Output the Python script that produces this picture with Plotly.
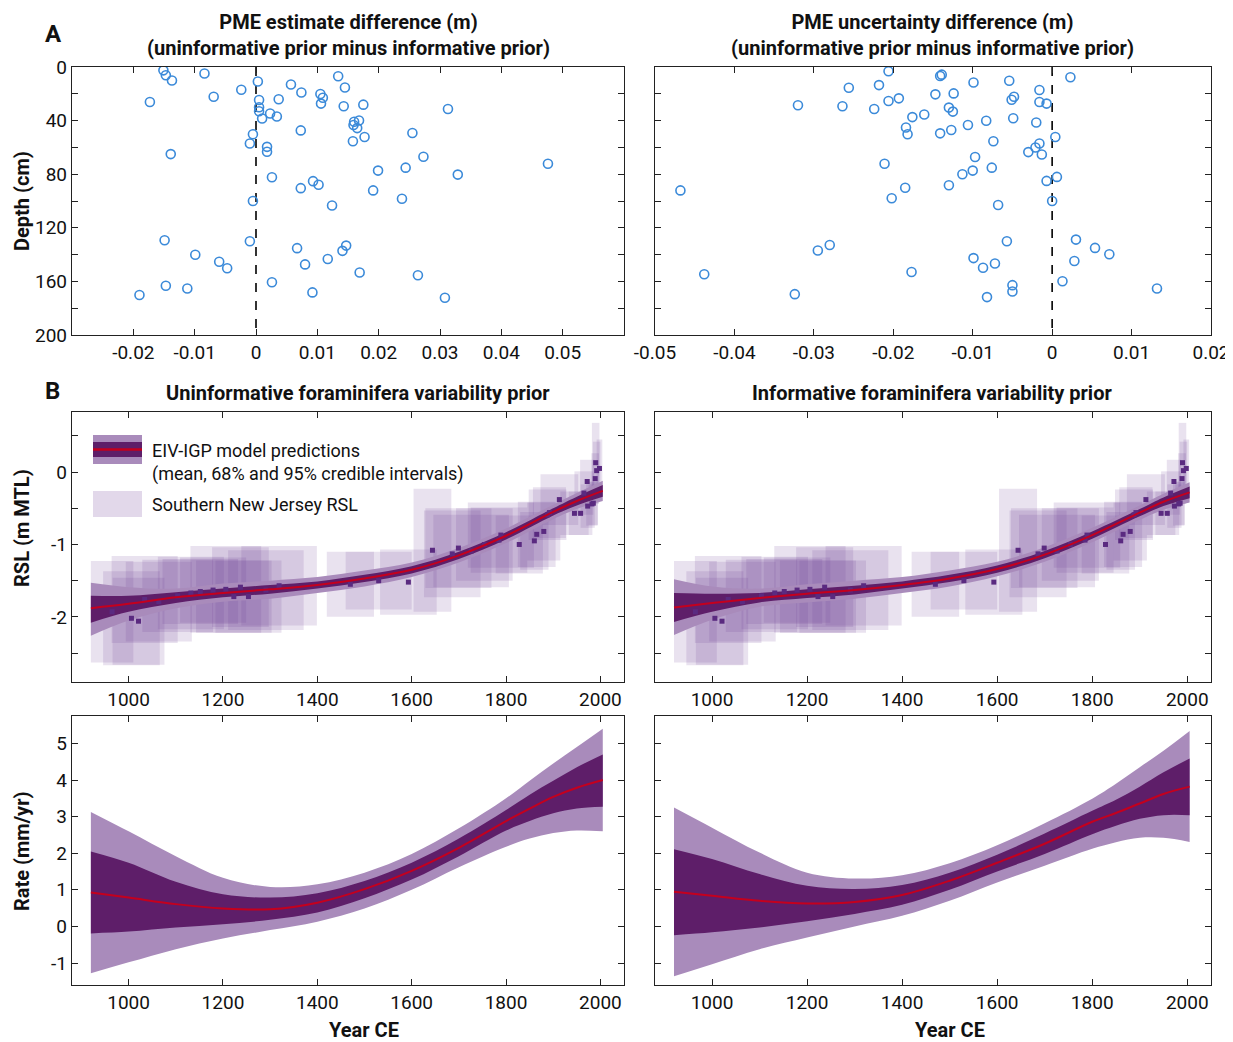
import plotly.graph_objects as go

# ---- panel A : PME differences vs depth ----
est_diff = [-0.0151, -0.0147, -0.0137, -0.0084, 0.0003, 0.0134, 0.0057, 0.0145, -0.0024, 0.0074,
            0.0105, 0.0109, -0.0069, -0.0173, 0.0005, 0.0037, 0.0106, 0.0143, 0.0175, 0.0313,
            0.0005, 0.0005, 0.0023, 0.0010, 0.0034, 0.0160, 0.0168, 0.0159, 0.0165, 0.0073,
            0.0255, 0.0177, -0.0005, -0.0010, 0.0158, 0.0018, 0.0018, -0.0139, 0.0273, 0.0476,
            0.0199, 0.0244, 0.0329, 0.0026, 0.0093, 0.0102, 0.0073, 0.0191, 0.0238, -0.0005,
            0.0124, -0.0149, -0.0010, 0.0067, 0.0147, 0.0141, -0.0099, 0.0117, -0.0060, -0.0047,
            0.0080, 0.0169, 0.0264, 0.0026, -0.0147, -0.0112, -0.0190, 0.0092, 0.0308]
est_depth = [2.5, 6.2, 10.1, 4.9, 10.8, 6.9, 13.1, 15.3, 17, 19, 20.2, 22.9, 22.2, 26.1, 24.6,
             24.1, 27.3, 29.3, 28.1, 31.3, 30, 33, 34.7, 38.4, 36.9, 40.9, 39.9, 43.3, 45.6, 47.3,
             49.3, 52.2, 50.2, 57.1, 55.4, 59.6, 63.3, 65, 67, 72.2, 77.3, 75.1, 80.3, 82.3, 85.2,
             87.9, 90.4, 92.1, 98.3, 100, 103.4, 129.3, 130, 135.2, 133.3, 137.2, 140.1, 143.3,
             145.3, 150.2, 147.3, 153.4, 155.4, 160.6, 163.3, 165.3, 170.2, 168.2, 172.2]

unc_diff = [-0.0206, -0.0139, -0.0141, 0.0023, -0.0099, -0.0054, -0.0256, -0.0218, -0.0016, -0.0124,
            -0.0147, -0.0193, -0.0206, -0.0048, -0.0051, -0.0016, -0.0007, -0.0320, -0.0264, -0.0224,
            -0.0130, -0.0125, -0.0161, -0.0176, -0.0049, -0.0083, -0.0020, -0.0106, -0.0184, -0.0127,
            -0.0141, -0.0182, 0.0004, -0.0074, -0.0016, -0.0021, -0.0030, -0.0013, -0.0097, -0.0211,
            -0.0076, -0.0100, -0.0113, 0.0006, -0.0007, -0.0468, -0.0185, -0.0130, -0.0202, 0.0000,
            -0.0068, 0.0030, -0.0057, -0.0280, -0.0295, 0.0054, 0.0072, -0.0099, -0.0087, -0.0072,
            0.0028, -0.0438, -0.0177, 0.0013, -0.0050, -0.0050, 0.0132, -0.0324, -0.0082]
unc_depth = [3.2, 5.7, 6.7, 7.6, 11.6, 10.3, 15.5, 13.5, 17.2, 19.7, 20.4, 23.4, 25.4, 22.2, 24.4,
             26.1, 27.3, 28.6, 29.3, 31.3, 30.3, 33.3, 35.5, 37.4, 38.2, 40.1, 41.4, 43.3, 45.1, 47,
             49.5, 50.2, 52.2, 55.4, 57.1, 60.1, 63.5, 65.3, 67.2, 72.2, 75.1, 77.3, 80, 82, 85,
             92.1, 90.1, 88.2, 98, 100, 103, 128.8, 130, 132.8, 136.9, 135, 139.7, 142.6, 149.8,
             146.6, 144.8, 154.7, 153, 159.9, 162.8, 167.5, 165.3, 169.5, 171.7]

# ---- panel B : RSL data (age, rsl and their half uncertainties) ----
sl_age = [965, 1006, 1021, 1034, 1064, 1104, 1132, 1152, 1179, 1206, 1223, 1237, 1254, 1291, 1319,
          1470, 1530, 1593, 1644, 1686, 1699, 1726, 1754, 1785, 1789, 1828, 1860, 1865, 1880, 1888,
          1892, 1913, 1945, 1958, 1965, 1972, 1973, 1982, 1985, 1989, 1990, 1992, 1998]
sl_rsl = [-1.93, -2.02, -2.06, -1.76, -1.79, -1.71, -1.67, -1.65, -1.63, -1.62, -1.72, -1.59, -1.72,
          -1.63, -1.57, -1.55, -1.50, -1.52, -1.08, -1.13, -1.05, -1.09, -1.00, -0.94, -0.87, -1.00,
          -0.95, -0.86, -0.82, -0.59, -0.56, -0.38, -0.57, -0.57, -0.29, -0.13, -0.47, -0.44, -0.43,
          -0.09, 0.13, 0.02, 0.05]
sl_age_err = [45, 60, 55, 70, 70, 75, 70, 80, 70, 75, 80, 60, 70, 80, 80,
              50, 70, 60, 40, 60, 70, 80, 60, 60, 70, 50, 30, 40, 35, 40,
              35, 40, 30, 25, 20, 15, 15, 12, 10, 8, 8, 8, 6]
sl_rsl_err = [0.70, 0.65, 0.60, 0.60, 0.55, 0.50, 0.50, 0.45, 0.45, 0.60, 0.50, 0.55, 0.50, 0.55, 0.55,
              0.45, 0.40, 0.45, 0.85, 0.60, 0.55, 0.50, 0.50, 0.45, 0.45, 0.40, 0.40, 0.45, 0.40, 0.35,
              0.35, 0.35, 0.30, 0.30, 0.30, 0.30, 0.30, 0.30, 0.30, 0.35, 0.55, 0.40, 0.40]

# model RSL (m MTL)
rsl_year = [920, 1000, 1100, 1200, 1300, 1400, 1500, 1600, 1700, 1800, 1900, 1950, 2005]
rsl_u_mean = [-1.88, -1.82, -1.73, -1.67, -1.62, -1.56, -1.47, -1.35, -1.15, -0.88, -0.55, -0.40, -0.26]
rsl_u_lo68 = [-2.08, -1.93, -1.81, -1.73, -1.68, -1.61, -1.52, -1.40, -1.20, -0.93, -0.60, -0.46, -0.34]
rsl_u_hi68 = [-1.71, -1.71, -1.66, -1.61, -1.56, -1.51, -1.42, -1.30, -1.10, -0.83, -0.50, -0.34, -0.18]
rsl_u_lo95 = [-2.26, -2.05, -1.88, -1.79, -1.75, -1.67, -1.58, -1.45, -1.25, -0.98, -0.65, -0.51, -0.40]
rsl_u_hi95 = [-1.53, -1.59, -1.61, -1.54, -1.50, -1.45, -1.36, -1.25, -1.05, -0.78, -0.45, -0.29, -0.12]

rsl_i_mean = [-1.87, -1.81, -1.74, -1.68, -1.63, -1.56, -1.47, -1.34, -1.14, -0.87, -0.56, -0.41, -0.28]
rsl_i_lo68 = [-2.07, -1.93, -1.80, -1.74, -1.69, -1.61, -1.52, -1.39, -1.19, -0.92, -0.61, -0.47, -0.36]
rsl_i_hi68 = [-1.67, -1.68, -1.67, -1.62, -1.57, -1.51, -1.42, -1.29, -1.09, -0.82, -0.51, -0.35, -0.20]
rsl_i_lo95 = [-2.25, -2.04, -1.86, -1.80, -1.75, -1.67, -1.58, -1.44, -1.24, -0.97, -0.66, -0.52, -0.42]
rsl_i_hi95 = [-1.48, -1.58, -1.61, -1.55, -1.50, -1.45, -1.36, -1.24, -1.04, -0.77, -0.46, -0.30, -0.14]

# model rate (mm/yr)
rate_year = [920, 1000, 1100, 1200, 1300, 1400, 1500, 1600, 1700, 1800, 1850, 1900, 1950, 2005]
rate_u_mean = [0.93, 0.79, 0.61, 0.49, 0.47, 0.65, 1.02, 1.52, 2.15, 2.88, 3.22, 3.54, 3.79, 4.00]
rate_u_lo68 = [-0.19, -0.14, -0.03, 0.06, 0.18, 0.38, 0.77, 1.28, 1.92, 2.62, 2.88, 3.09, 3.22, 3.27]
rate_u_hi68 = [2.05, 1.74, 1.22, 0.88, 0.79, 0.91, 1.24, 1.74, 2.40, 3.18, 3.60, 3.98, 4.35, 4.70]
rate_u_lo95 = [-1.28, -0.98, -0.62, -0.33, -0.10, 0.13, 0.49, 1.00, 1.62, 2.18, 2.40, 2.55, 2.62, 2.60]
rate_u_hi95 = [3.13, 2.60, 1.92, 1.33, 1.08, 1.15, 1.47, 1.98, 2.68, 3.50, 3.98, 4.45, 4.90, 5.40]

rate_i_mean = [0.95, 0.84, 0.70, 0.63, 0.67, 0.86, 1.25, 1.74, 2.26, 2.86, 3.10, 3.36, 3.62, 3.82]
rate_i_lo68 = [-0.24, -0.16, -0.03, 0.14, 0.34, 0.59, 1.00, 1.50, 1.98, 2.52, 2.75, 2.94, 3.04, 3.04]
rate_i_hi68 = [2.11, 1.84, 1.43, 1.11, 1.02, 1.13, 1.47, 1.96, 2.54, 3.16, 3.46, 3.82, 4.21, 4.59]
rate_i_lo95 = [-1.36, -1.03, -0.62, -0.30, 0.00, 0.29, 0.70, 1.20, 1.66, 2.12, 2.30, 2.42, 2.42, 2.31]
rate_i_hi95 = [3.25, 2.70, 2.02, 1.47, 1.31, 1.40, 1.73, 2.22, 2.82, 3.49, 3.90, 4.35, 4.80, 5.34]

year_ticks = [1000, 1200, 1400, 1600, 1800, 2000]

FONT = "Roboto, Lato, sans-serif"
INK = "#222222"
BLUE = "#3b8ad9"
C95 = "#a98bbb"
C68 = "#5e1e69"
RED = "#c4001e"
BOX = "rgba(110, 60, 150, 0.15)"
DOT = "#5a2a80"

# the page body adds an 8px margin, so the figure is 8px smaller than the window
OFF = 8
W, H = 1233 - OFF, 1042 - OFF


def px(x):
    return (x - OFF) / W


def py(y):
    return 1 - (y - OFF) / H


LEFT = [px(72), px(624)]
RIGHT = [px(655), px(1211)]
TOP = [py(335), py(67)]
MID = [py(682), py(412)]
BOT = [py(985), py(716)]

fig = go.Figure()

# -- A: scatter panels
for xa, ya, xs, ys in [("x", "y", est_diff, est_depth), ("x2", "y2", unc_diff, unc_depth)]:
    fig.add_trace(go.Scatter(x=[0, 0], y=[0, 200], mode="lines", xaxis=xa, yaxis=ya,
                             line=dict(color="black", width=1.6, dash="dash"), showlegend=False))
    fig.add_trace(go.Scatter(x=xs, y=ys, mode="markers", xaxis=xa, yaxis=ya, showlegend=False,
                             marker=dict(symbol="circle-open", size=9, color=BLUE,
                                         line=dict(width=1.6, color=BLUE))))


def band(xa, ya, xs, lo, hi, color):
    fig.add_trace(go.Scatter(x=xs, y=lo, mode="lines", xaxis=xa, yaxis=ya, showlegend=False,
                             line=dict(width=0, shape="spline", smoothing=1.0, color=color)))
    fig.add_trace(go.Scatter(x=xs, y=hi, mode="lines", xaxis=xa, yaxis=ya, showlegend=False,
                             fill="tonexty", fillcolor=color,
                             line=dict(width=0, shape="spline", smoothing=1.0, color=color)))


# -- B: RSL panels
rsl_models = [("x3", "y3", rsl_u_mean, rsl_u_lo68, rsl_u_hi68, rsl_u_lo95, rsl_u_hi95),
              ("x4", "y4", rsl_i_mean, rsl_i_lo68, rsl_i_hi68, rsl_i_lo95, rsl_i_hi95)]
for xa, ya, mean, lo68, hi68, lo95, hi95 in rsl_models:
    for a, r, ea, er in zip(sl_age, sl_rsl, sl_age_err, sl_rsl_err):
        fig.add_trace(go.Scatter(x=[a - ea, a + ea, a + ea, a - ea, a - ea],
                                 y=[r - er, r - er, r + er, r + er, r - er],
                                 mode="lines", fill="toself", fillcolor=BOX, line=dict(width=0),
                                 xaxis=xa, yaxis=ya, showlegend=False, hoverinfo="skip"))
    band(xa, ya, rsl_year, lo95, hi95, C95)
    band(xa, ya, rsl_year, lo68, hi68, C68)
    fig.add_trace(go.Scatter(x=sl_age, y=sl_rsl, mode="markers", xaxis=xa, yaxis=ya,
                             showlegend=False, marker=dict(symbol="square", size=5, color=DOT)))
    fig.add_trace(go.Scatter(x=rsl_year, y=mean, mode="lines", xaxis=xa, yaxis=ya, showlegend=False,
                             line=dict(color=RED, width=2, shape="spline", smoothing=1.0)))

# -- B: rate panels
rate_models = [("x5", "y5", rate_u_mean, rate_u_lo68, rate_u_hi68, rate_u_lo95, rate_u_hi95),
               ("x6", "y6", rate_i_mean, rate_i_lo68, rate_i_hi68, rate_i_lo95, rate_i_hi95)]
for xa, ya, mean, lo68, hi68, lo95, hi95 in rate_models:
    band(xa, ya, rate_year, lo95, hi95, C95)
    band(xa, ya, rate_year, lo68, hi68, C68)
    fig.add_trace(go.Scatter(x=rate_year, y=mean, mode="lines", xaxis=xa, yaxis=ya, showlegend=False,
                             line=dict(color=RED, width=2, shape="spline", smoothing=1.0)))


def ax(domain, anchor, rng, **kw):
    d = dict(domain=domain, anchor=anchor, range=rng, automargin=False,
             showline=True, linecolor=INK, linewidth=1.3,
             mirror="ticks", ticks="inside", ticklen=6, tickwidth=1.2, tickcolor=INK,
             showgrid=False, zeroline=False, tickfont=dict(family=FONT, size=19, color="#111"))
    d.update(kw)
    return d


def labels(vals):
    return [("%g" % v) for v in vals]


dx_left = [-0.02, -0.01, 0, 0.01, 0.02, 0.03, 0.04, 0.05]
dx_right = [-0.05, -0.04, -0.03, -0.02, -0.01, 0, 0.01, 0.02]
depth_ticks = [0, 40, 80, 120, 160, 200]
rsl_ticks = [-2, -1, 0]
rate_ticks = [-1, 0, 1, 2, 3, 4, 5]
depth_minor = dict(ticks="inside", ticklen=6, tickcolor=INK, tick0=0, dtick=20)
rsl_minor = dict(ticks="inside", ticklen=6, tickcolor=INK, tick0=0, dtick=0.5)

layout = dict(
    width=W, height=H, margin=dict(l=0, r=0, t=0, b=0, pad=0, autoexpand=False),
    paper_bgcolor="white", plot_bgcolor="white", showlegend=False,
    font=dict(family=FONT, color="#111"),
    xaxis=ax(LEFT, "y", [-0.03, 0.06], tickvals=dx_left, ticktext=labels(dx_left)),
    yaxis=ax(TOP, "x", [200, 0], tickvals=depth_ticks, ticktext=labels(depth_ticks), minor=depth_minor),
    xaxis2=ax(RIGHT, "y2", [-0.05, 0.02], tickvals=dx_right, ticktext=labels(dx_right)),
    yaxis2=ax(TOP, "x2", [200, 0], tickvals=depth_ticks, showticklabels=False, minor=depth_minor),
    xaxis3=ax(LEFT, "y3", [880, 2050], tickvals=year_ticks),
    yaxis3=ax(MID, "x3", [-2.9, 0.83], tickvals=rsl_ticks, ticktext=labels(rsl_ticks), minor=rsl_minor),
    xaxis4=ax(RIGHT, "y4", [880, 2050], tickvals=year_ticks),
    yaxis4=ax(MID, "x4", [-2.9, 0.83], tickvals=rsl_ticks, showticklabels=False, minor=rsl_minor),
    xaxis5=ax(LEFT, "y5", [880, 2050], tickvals=year_ticks),
    yaxis5=ax(BOT, "x5", [-1.6, 5.75], tickvals=rate_ticks, ticktext=labels(rate_ticks)),
    xaxis6=ax(RIGHT, "y6", [880, 2050], tickvals=year_ticks),
    yaxis6=ax(BOT, "x6", [-1.6, 5.75], tickvals=rate_ticks, showticklabels=False),
)
fig.update_layout(**layout)


def note(text, x, y, size=20, bold=True, angle=0, xanchor="center"):
    if bold:
        text = "<b>" + text + "</b>"
    fig.add_annotation(text=text, x=px(x), y=py(y), xref="paper", yref="paper", showarrow=False,
                       xanchor=xanchor, yanchor="middle", textangle=angle,
                       font=dict(family=FONT, size=size, color="#111"))


note("A", 53, 34, size=24)
note("B", 52, 391, size=24)
note("PME estimate difference (m)<br>(uninformative prior minus informative prior)", 348, 35)
note("PME uncertainty difference (m)<br>(uninformative prior minus informative prior)", 932, 35)
note("Uninformative foraminifera variability prior", 358, 393)
note("Informative foraminifera variability prior", 932, 393)
note("Depth (cm)", 22, 201, angle=-90)
note("RSL (m MTL)", 22, 528, angle=-90)
note("Rate (mm/yr)", 22, 851, angle=-90)
note("Year CE", 364, 1030)
note("Year CE", 950, 1030)

# legend drawn inside the left RSL panel
fig.add_shape(type="rect", xref="paper", yref="paper", x0=px(93), x1=px(142), y0=py(464), y1=py(435),
              fillcolor=C95, line=dict(width=0))
fig.add_shape(type="rect", xref="paper", yref="paper", x0=px(93), x1=px(142), y0=py(457), y1=py(442),
              fillcolor=C68, line=dict(width=0))
fig.add_shape(type="line", xref="paper", yref="paper", x0=px(93), x1=px(142), y0=py(449.5), y1=py(449.5),
              line=dict(color=RED, width=2.5))
fig.add_shape(type="rect", xref="paper", yref="paper", x0=px(93), x1=px(142), y0=py(517), y1=py(491),
              fillcolor="rgba(110, 60, 150, 0.2)", line=dict(width=0))
note("EIV-IGP model predictions", 150, 450, size=18, bold=False, xanchor="left")
note("(mean, 68% and 95% credible intervals)", 150, 474, size=18, bold=False, xanchor="left")
note("Southern New Jersey RSL", 150, 504, size=18, bold=False, xanchor="left")

fig.write_html("out.html")
